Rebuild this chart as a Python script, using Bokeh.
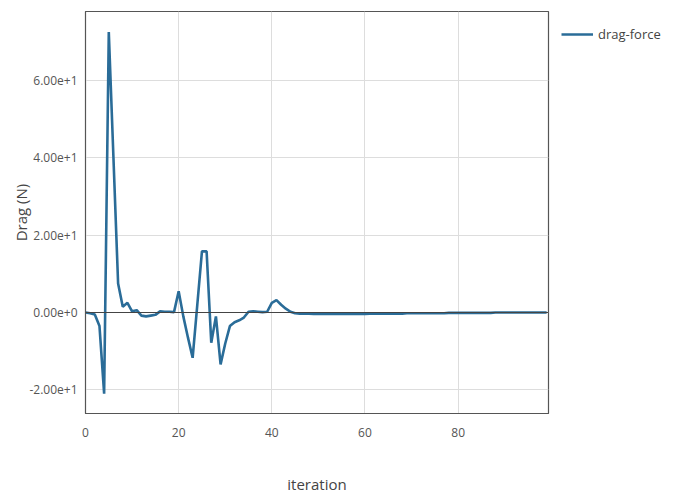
from bokeh.plotting import figure
from bokeh.models import Range1d, FixedTicker, Legend, LegendItem, Span, Title
from bokeh.embed import file_html
from bokeh.resources import INLINE

iteration = list(range(100))
drag = [
    0.0, -0.2, -0.5, -3.5, -21.0, 72.5, 40.0, 7.5, 1.5, 2.5,
    0.3, 0.6, -0.8, -1.0, -0.8, -0.6, 0.3, 0.2, 0.2, 0.1,
    5.5, -1.0, -6.5, -11.7, 2.0, 15.8, 15.8, -7.8, -1.0, -13.4,
    -8.0, -3.5, -2.5, -2.0, -1.3, 0.2, 0.3, 0.2, 0.1, 0.2,
    2.5, 3.2, 2.0, 1.0, 0.2, -0.2, -0.3, -0.3, -0.3, -0.4,
    -0.4, -0.4, -0.4, -0.4, -0.4, -0.4, -0.4, -0.4, -0.4, -0.4,
    -0.4, -0.3, -0.3, -0.3, -0.3, -0.3, -0.3, -0.3, -0.3, -0.2,
    -0.2, -0.2, -0.2, -0.2, -0.2, -0.2, -0.2, -0.2, -0.1, -0.1,
    -0.1, -0.1, -0.1, -0.1, -0.1, -0.1, -0.1, -0.1, 0.0, 0.0,
    0.0, 0.0, 0.0, 0.0, 0.0, 0.0, 0.0, 0.0, 0.0, 0.0,
]
series_name = "drag-force"
x_ticks = [0, 20, 40, 60, 80]
y_ticks = [-20, 0, 20, 40, 60]
y_tick_labels = ["-2.00e+1", "0.00e+0", "2.00e+1", "4.00e+1", "6.00e+1"]

FONT = "Open Sans"
p = figure(frame_width=463, frame_height=402, output_backend="svg", toolbar_location=None,
           x_range=Range1d(0, 99.4), y_range=Range1d(-26.1, 77.8),
           min_border_left=0, min_border_right=0, min_border_top=11, min_border_bottom=68)

p.outline_line_color = "#555555"
p.outline_line_width = 1.2
p.background_fill_color = "white"
p.border_fill_color = "white"

for ax in (p.xaxis[0], p.yaxis[0]):
    ax.axis_line_color = "#555555"
    ax.major_tick_out = 0
    ax.major_tick_in = 0
    ax.minor_tick_out = 0
    ax.minor_tick_in = 0
    ax.major_label_text_font = FONT
    ax.major_label_text_font_size = "12px"
    ax.major_label_text_color = "#555555"
    ax.axis_label_text_font = FONT
    ax.axis_label_text_font_size = "15px"
    ax.axis_label_text_font_style = "normal"
    ax.axis_label_text_color = "#444444"

p.xaxis.ticker = FixedTicker(ticks=x_ticks)
p.yaxis.ticker = FixedTicker(ticks=y_ticks)
p.yaxis.major_label_overrides = {t: l for t, l in zip(y_ticks, y_tick_labels)}
p.xaxis.axis_label = "iteration"
p.yaxis.axis_label = "Drag (N)"
p.xaxis.major_label_standoff = 14
p.xaxis.axis_label_standoff = 34
p.yaxis.major_label_standoff = 8
p.yaxis.axis_label_standoff = -5

# small spacer to the left of the y axis
p.add_layout(Title(text=" ", text_font_size="2px", standoff=4), "left")

p.xgrid.grid_line_color = "#dddddd"
p.ygrid.grid_line_color = "#dddddd"

zero = Span(location=0, dimension="width", line_color="#444444", line_width=1.2)
p.add_layout(zero)

r = p.line(iteration, drag, line_color="#2a6c98", line_width=2.6)

legend = Legend(items=[LegendItem(label=series_name, renderers=[r])],
                location="top_left", border_line_color=None, background_fill_alpha=0,
                label_text_font=FONT, label_text_font_size="13px", label_text_color="#444444",
                glyph_width=32, label_standoff=5, padding=4, margin=13)
p.add_layout(legend, "right")

open("out.html", "w").write(file_html(p, INLINE))
